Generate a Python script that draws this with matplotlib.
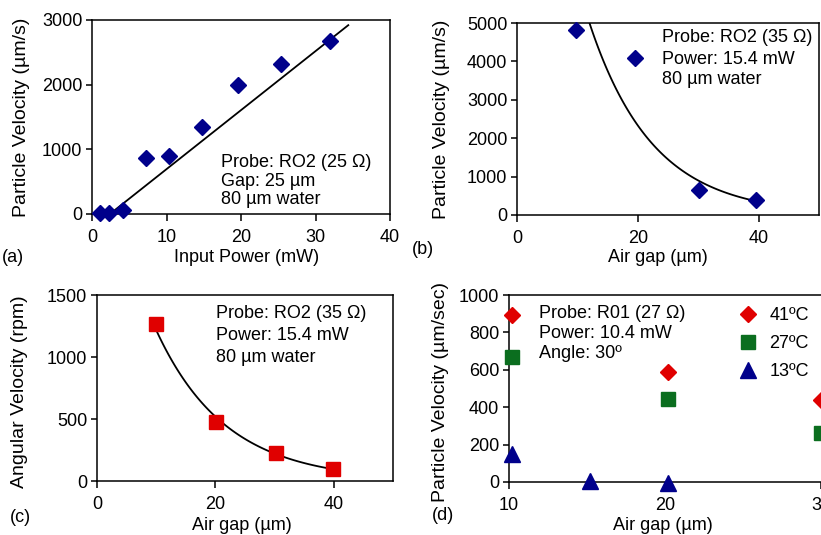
import numpy as np
import matplotlib
matplotlib.use("Agg")
import matplotlib.pyplot as plt

plt.rcParams['font.family'] = ['Liberation Sans', 'DejaVu Sans']
plt.rcParams['font.size'] = 13
plt.rcParams['axes.linewidth'] = 1.1

# (a) velocity vs input power
power_a = [1.1, 2.3, 4.2, 7.2, 10.4, 14.7, 19.6, 25.4, 32.0]
vel_a = [20, 10, 60, 860, 900, 1340, 2000, 2320, 2680]
# linear trend line, end points
trend_a_x = [2.4, 34.4]
trend_a_y = [0, 2920]

# (b) velocity vs air gap
gap_b = [9.8, 19.6, 30.1, 39.6]
vel_b = [4830, 4080, 640, 380]

# (c) angular velocity vs air gap
gap_c = [10.0, 20.1, 30.2, 39.9]
rpm_c = [1265, 475, 228, 95]

# (d) velocity vs air gap at three temperatures
gap_d41 = [10.2, 20.2, 30.0]
vel_d41 = [893, 586, 441]
gap_d27 = [10.2, 20.2, 30.0]
vel_d27 = [670, 445, 262]
gap_d13 = [10.2, 15.2, 20.2]
vel_d13 = [150, 8, -3]

navy = '#00008b'
red = '#e00000'
green = '#0b6e1f'
W, H = 821, 535
FS = 13
YFS = 14


def add_axes(left, top, right, bottom):
    return fig.add_axes([left / W, 1 - bottom / H, (right - left) / W, (bottom - top) / H])


def style(ax):
    ax.tick_params(direction='out', length=4, width=1.1, pad=3, labelsize=FS,
                   top=False, right=False)
    ax.tick_params(axis='x', length=5, pad=5.5)


def labels(ax, xl, yl, xpos, ypos):
    # positions given in axes fractions, label centred there
    ax.set_xlabel(xl, fontsize=FS)
    ax.set_ylabel(yl, fontsize=YFS)
    ax.xaxis.set_label_coords(*xpos)
    ax.xaxis.label.set_va('center')
    ax.yaxis.set_label_coords(*ypos)
    ax.yaxis.label.set_va('center')


def notes(x, ys, lines):
    for y, s in zip(ys, lines):
        fig.text(x / W, 1 - y / H, s, va='center', ha='left', fontsize=FS)


fig = plt.figure(figsize=(8.21, 5.35), dpi=100)

# ---- (a)
ax = add_axes(92, 20, 390, 214)
ax.plot(power_a, vel_a, 'D', color=navy, ms=8, clip_on=False, zorder=3)
ax.plot(trend_a_x, trend_a_y, color='black', lw=1.3)
ax.set_xlim(0, 40)
ax.set_ylim(0, 3000)
ax.set_xticks([0, 10, 20, 30, 40])
ax.set_yticks([0, 1000, 2000, 3000])
labels(ax, 'Input Power (mW)', 'Particle Velocity (µm/s)',
       ((247 - 92) / 298, (214 - 258) / 194), ((22 - 92) / 298, 0.5))
style(ax)
notes(221, [162, 181, 200], ['Probe: RO2 (25 Ω)', 'Gap: 25 µm', '80 µm water'])
fig.text(2 / W, 1 - 257 / H, '(a)', va='center', ha='left', fontsize=FS)

# ---- (b)
ax = add_axes(517, 23, 819, 215)
ax.plot(gap_b, vel_b, 'D', color=navy, ms=8, zorder=3, clip_on=False)
kb, lb = np.polyfit(gap_b, np.log(vel_b), 1)
xs = np.linspace(min(gap_b), max(gap_b), 100)
ax.plot(xs, np.exp(lb + kb * xs), color='black', lw=1.3)
ax.set_xlim(0, 50)
ax.set_ylim(0, 5000)
ax.set_xticks([0, 20, 40])
ax.set_yticks([0, 1000, 2000, 3000, 4000, 5000])
labels(ax, 'Air gap (µm)', 'Particle Velocity (µm/s)',
       ((658 - 517) / 302, (215 - 258) / 192), ((441 - 517) / 302, 0.5))
style(ax)
notes(662, [38, 59, 80], ['Probe: RO2 (35 Ω)', 'Power: 15.4 mW', '80 µm water'])
fig.text(412 / W, 1 - 250 / H, '(b)', va='center', ha='left', fontsize=FS)

# ---- (c)
ax = add_axes(97, 295, 393, 481)
ax.plot(gap_c, rpm_c, 's', color=red, ms=10, zorder=3)
kc, lc = np.polyfit(gap_c, np.log(rpm_c), 1)
xs = np.linspace(9.6, 39.8, 100)
ax.plot(xs, np.exp(lc + kc * xs), color='black', lw=1.3)
ax.set_xlim(0, 50)
ax.set_ylim(0, 1500)
ax.set_xticks([0, 20, 40])
ax.set_yticks([0, 500, 1000, 1500])
labels(ax, 'Air gap (µm)', 'Angular Velocity (rpm)',
       ((242 - 97) / 296, (481 - 526) / 186), ((20 - 97) / 296, 0.48))
style(ax)
notes(216, [313, 335, 357], ['Probe: RO2 (35 Ω)', 'Power: 15.4 mW', '80 µm water'])
fig.text(10 / W, 1 - 517 / H, '(c)', va='center', ha='left', fontsize=FS)

# ---- (d)  (panel is cut off at the right edge of the image)
ax = add_axes(509, 295, 977, 482)
ax.plot(gap_d41, vel_d41, 'D', color=red, ms=8.5, label='41ºC', zorder=3,
        clip_on=False)
ax.plot(gap_d27, vel_d27, 's', color=green, ms=9.5, label='27ºC', zorder=3,
        clip_on=False)
ax.plot(gap_d13, vel_d13, '^', color=navy, ms=11.5, label='13ºC', zorder=3,
        clip_on=False)
ax.set_xlim(10, 40)
ax.set_ylim(0, 1000)
ax.set_xticks([10, 20, 30])
ax.set_yticks([0, 200, 400, 600, 800, 1000])
labels(ax, 'Air gap (µm)', 'Particle Velocity (µm/sec)',
       ((663 - 509) / 468, (482 - 526) / 187), ((440 - 509) / 468, 0.48))
style(ax)
ax.legend(loc='upper left', bbox_to_anchor=(737 / W, 1 - 307 / H),
          bbox_transform=fig.transFigure, frameon=False, fontsize=FS,
          handlelength=1.2, handletextpad=0.6, labelspacing=0.62, borderpad=0,
          borderaxespad=0)
notes(539, [313, 334, 354], ['Probe: R01 (27 Ω)', 'Power: 10.4 mW', 'Angle: 30º'])
fig.text(432 / W, 1 - 515 / H, '(d)', va='center', ha='left', fontsize=FS)

fig.savefig('out.png', dpi=100)
